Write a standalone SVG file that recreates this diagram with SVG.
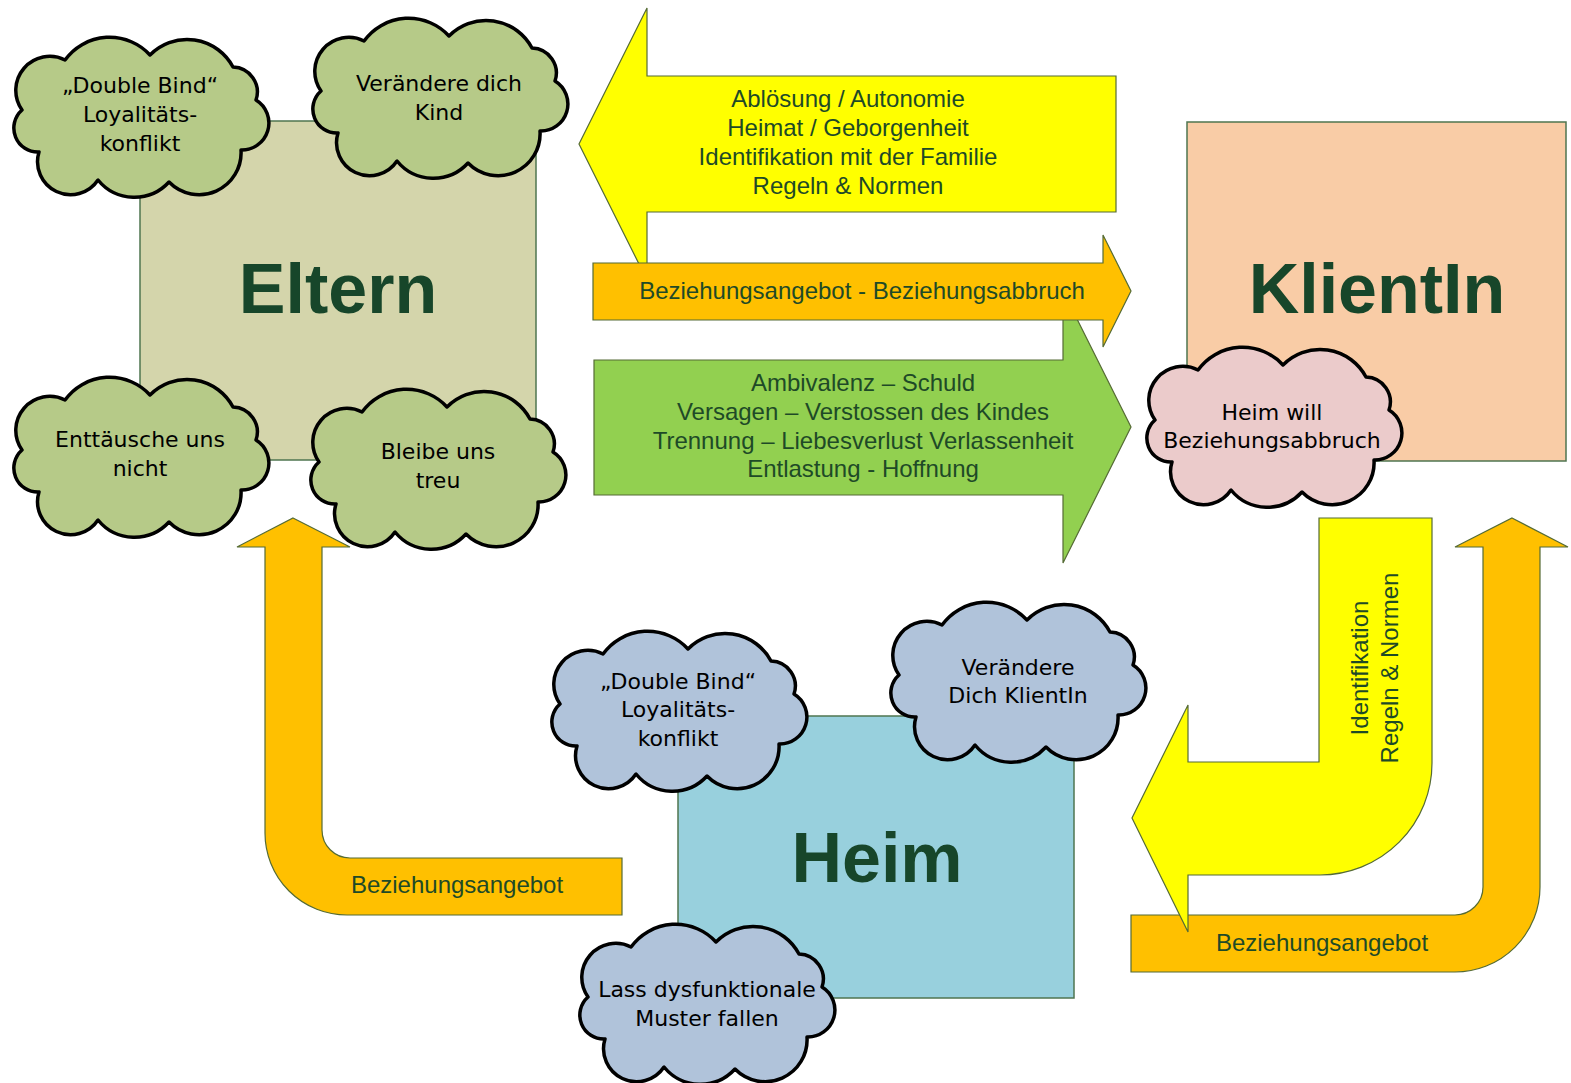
<svg xmlns="http://www.w3.org/2000/svg" xmlns:xlink="http://www.w3.org/1999/xlink" width="1571" height="1083" viewBox="0 0 1571 1083">
<style>
.box{stroke:#4f7550;stroke-width:1.5}
.arr{stroke:#556b35;stroke-width:1.2}
.cloud{stroke:#000;stroke-width:3.5;stroke-linejoin:round}
.cg{fill:#b6ca88}.cp{fill:#ebcbcb}.cb{fill:#b0c3da}
.big{font-family:"Liberation Sans",Arial,sans-serif;font-weight:bold;font-size:70px;fill:#17462a;text-anchor:middle}
.at{font-family:"Liberation Sans",Arial,sans-serif;font-size:24px;fill:#1e4a27;text-anchor:middle}
.ct{font-family:"DejaVu Sans",sans-serif;font-size:22px;fill:#000;text-anchor:middle}
</style>
<defs>
<path id="cloudShape" d="M10,73 A34,34 0 0 1 53,23 A55,55 0 0 1 138,18 A52,52 0 0 1 221,30 A25,25 0 0 1 244,63 A27,27 0 0 1 229,113 A42,42 0 0 1 157,145 A47,47 0 0 1 86,143 A33,33 0 0 1 27,115 A24,24 0 0 1 10,73 Z"/>
</defs>
<rect width="1571" height="1083" fill="#fff"/>

<g id="eltern">
<rect class="box" x="140" y="121" width="396" height="339" fill="#d4d5ab"/>
<text class="big" x="338" y="313">Eltern</text>
</g>
<g id="klientin">
<rect class="box" x="1187" y="122" width="379" height="339" fill="#f9cca6"/>
<text class="big" x="1377" y="313">KlientIn</text>
</g>
<g id="heim">
<rect class="box" x="678" y="716" width="396" height="282" fill="#98d0dd"/>
<text class="big" x="877" y="882">Heim</text>
</g>

<g id="connectors">
<g id="arrow-top-yellow">
<polygon class="arr" fill="#ffff00" points="579,144 647,8 647,76 1116,76 1116,212 647,212 647,280"/>
<text class="at"><tspan x="848" y="107">Ablösung / Autonomie</tspan><tspan x="848" y="136">Heimat / Geborgenheit</tspan><tspan x="848" y="165">Identifikation mit der Familie</tspan><tspan x="848" y="194">Regeln &amp; Normen</tspan></text>
</g>
<g id="arrow-green">
<polygon class="arr" fill="#92d050" points="594,360 1063,360 1063,291 1131,427 1063,563 1063,495 594,495"/>
<text class="at"><tspan x="863" y="391">Ambivalenz – Schuld</tspan><tspan x="863" y="420">Versagen – Verstossen des Kindes</tspan><tspan x="863" y="449">Trennung – Liebesverlust Verlassenheit</tspan><tspan x="863" y="477">Entlastung - Hoffnung</tspan></text>
</g>
<g id="arrow-orange-mid">
<polygon class="arr" fill="#ffc000" points="593,263 1103,263 1103,235 1131,291 1103,347 1103,320 593,320"/>
<text class="at" x="862" y="299">Beziehungsangebot - Beziehungsabbruch</text>
</g>
<g id="arrow-orange-left">
<path class="arr" fill="#ffc000" d="M293,518 L350,547 L322,547 L322,830 A28,28 0 0 0 350,858 L622,858 L622,915 L347,915 A82,82 0 0 1 265,833 L265,547 L237,547 Z"/>
<text class="at" x="457" y="893">Beziehungsangebot</text>
</g>
<g id="arrow-orange-right">
<path class="arr" fill="#ffc000" d="M1512,518 L1568,547 L1540,547 L1540,887 A85,85 0 0 1 1455,972 L1131,972 L1131,915 L1455,915 A28,28 0 0 0 1483,887 L1483,547 L1455,547 Z"/>
<text class="at" x="1322" y="951">Beziehungsangebot</text>
</g>
<g id="arrow-yellow-right">
<path class="arr" fill="#ffff00" d="M1319,518 L1432,518 L1432,763 A112,112 0 0 1 1320,875 L1188,875 L1188,932 L1132,818 L1188,705 L1188,762 L1319,762 Z"/>
<text class="at" transform="translate(1368,668) rotate(-90)"><tspan x="0" y="0">Identifikation</tspan><tspan x="0" y="29.5">Regeln &amp; Normen</tspan></text>
</g>
</g>

<g id="cloud-eltern-doublebind">
<use xlink:href="#cloudShape" href="#cloudShape" class="cloud cg" transform="translate(12,37)"/>
<text class="ct"><tspan x="140" y="93">„Double Bind“</tspan><tspan x="140" y="122">Loyalitäts-</tspan><tspan x="140" y="151">konflikt</tspan></text>
</g>
<g id="cloud-eltern-veraendere">
<use xlink:href="#cloudShape" href="#cloudShape" class="cloud cg" transform="translate(311,18)"/>
<text class="ct"><tspan x="439" y="91">Verändere dich</tspan><tspan x="439" y="120">Kind</tspan></text>
</g>
<g id="cloud-eltern-enttaeusche">
<use xlink:href="#cloudShape" href="#cloudShape" class="cloud cg" transform="translate(12,377)"/>
<text class="ct"><tspan x="140" y="447">Enttäusche uns</tspan><tspan x="140" y="476">nicht</tspan></text>
</g>
<g id="cloud-eltern-bleibe">
<use xlink:href="#cloudShape" href="#cloudShape" class="cloud cg" transform="translate(309,389)"/>
<text class="ct"><tspan x="438" y="459">Bleibe uns</tspan><tspan x="438" y="488">treu</tspan></text>
</g>
<g id="cloud-klientin-abbruch">
<use xlink:href="#cloudShape" href="#cloudShape" class="cloud cp" transform="translate(1145,347)"/>
<text class="ct"><tspan x="1272" y="420">Heim will</tspan><tspan x="1272" y="448">Beziehungsabbruch</tspan></text>
</g>
<g id="cloud-heim-doublebind">
<use xlink:href="#cloudShape" href="#cloudShape" class="cloud cb" transform="translate(550,631)"/>
<text class="ct"><tspan x="678" y="689">„Double Bind“</tspan><tspan x="678" y="717">Loyalitäts-</tspan><tspan x="678" y="746">konflikt</tspan></text>
</g>
<g id="cloud-heim-veraendere">
<use xlink:href="#cloudShape" href="#cloudShape" class="cloud cb" transform="translate(889,602)"/>
<text class="ct"><tspan x="1018" y="675">Verändere</tspan><tspan x="1018" y="703">Dich KlientIn</tspan></text>
</g>
<g id="cloud-heim-muster">
<use xlink:href="#cloudShape" href="#cloudShape" class="cloud cb" transform="translate(578,924)"/>
<text class="ct"><tspan x="707" y="997">Lass dysfunktionale</tspan><tspan x="707" y="1026">Muster fallen</tspan></text>
</g>
</svg>
